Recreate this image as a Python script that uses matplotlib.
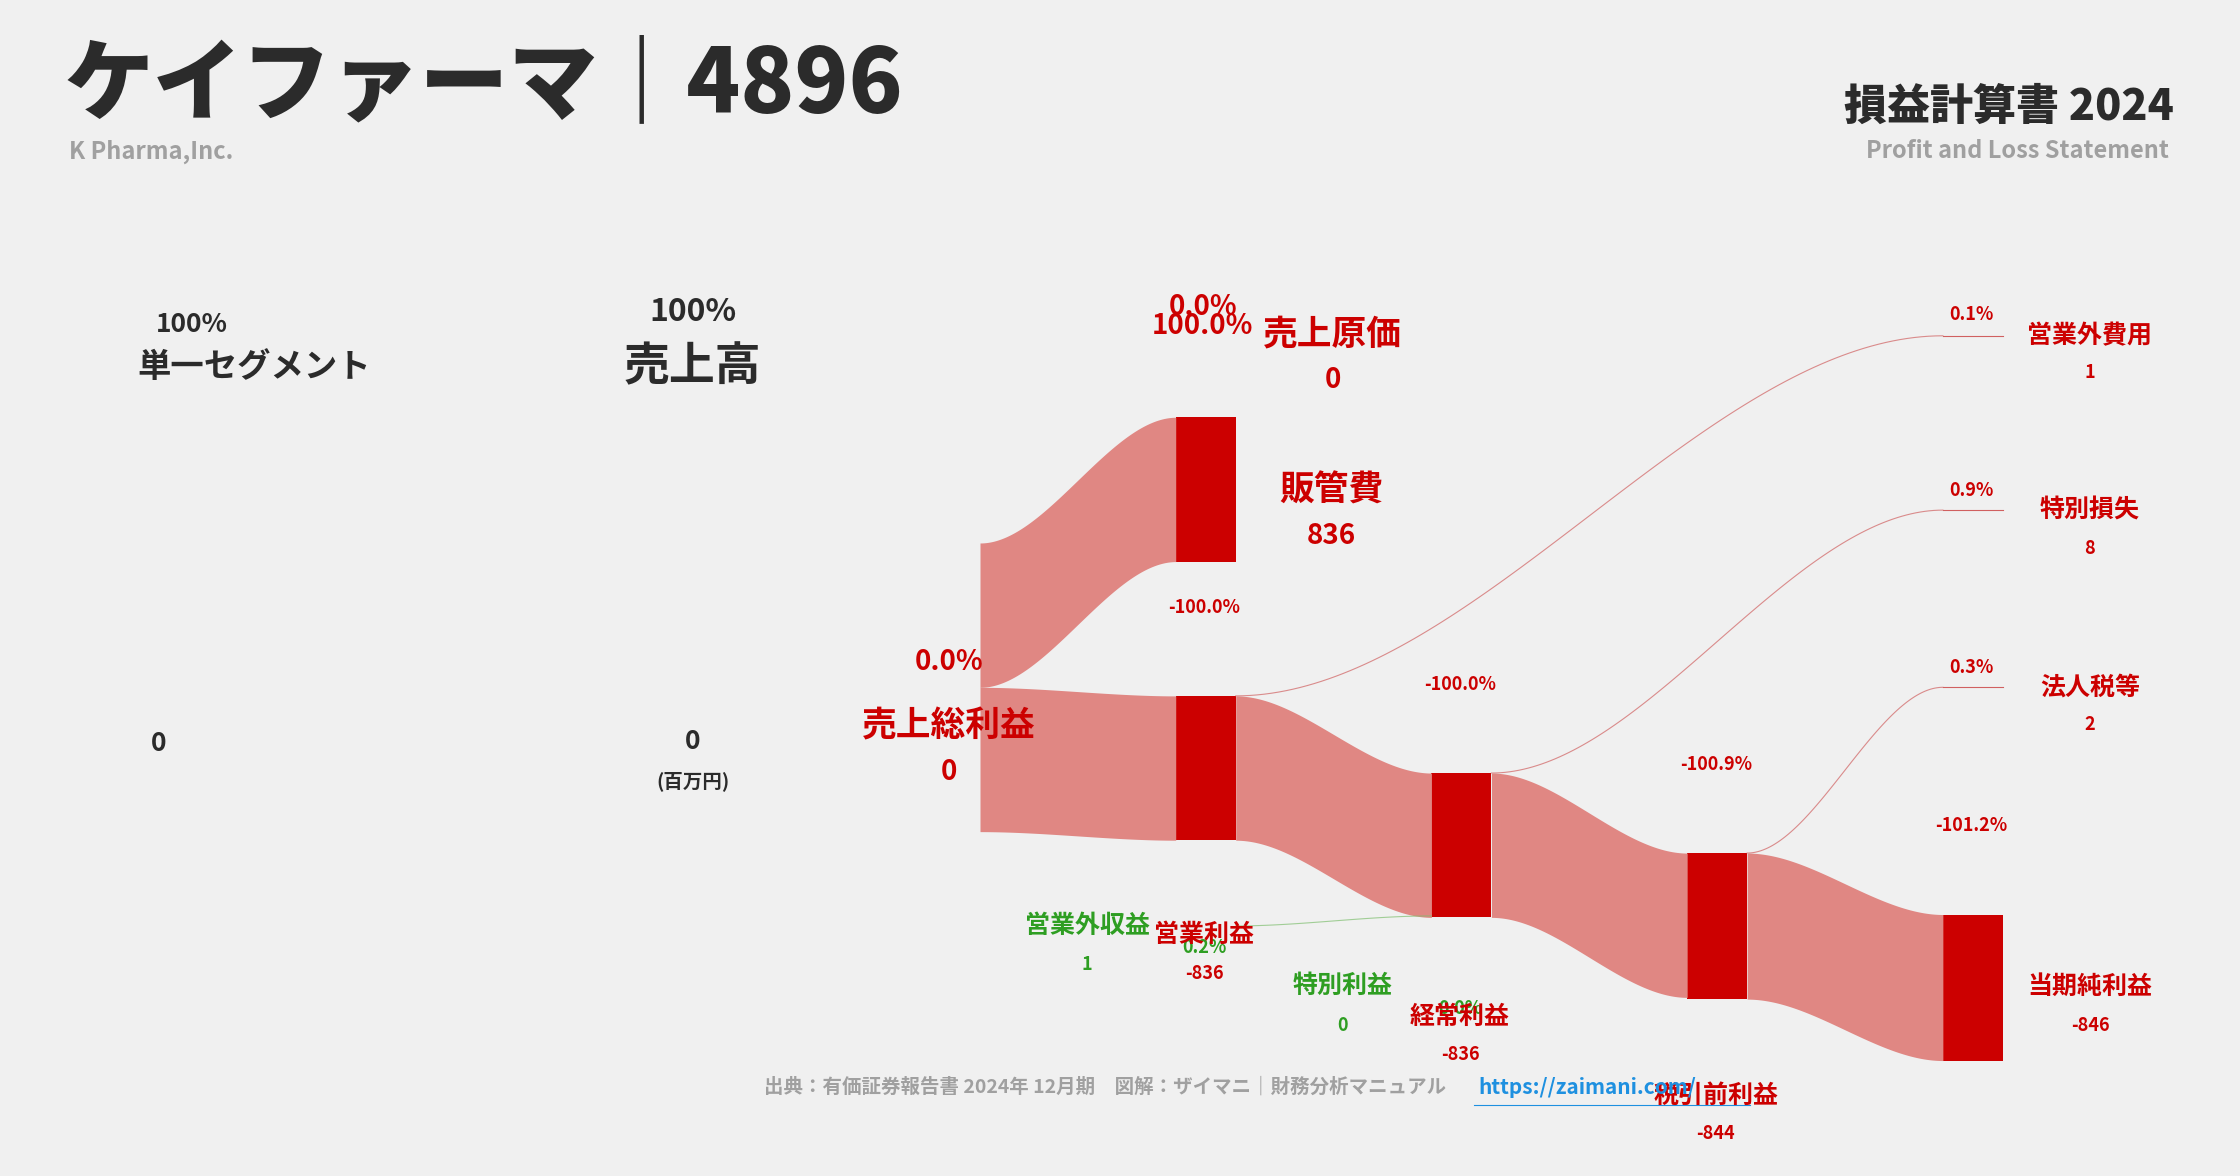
import numpy as np
import matplotlib
matplotlib.use("Agg")
import matplotlib.pyplot as plt

plt.rcParams['font.family'] = ['Noto Sans CJK JP', 'DejaVu Sans']

# ---- data (百万円) ----
revenue = 0
cost_of_sales = 0
gross_profit = 0
sga = 836
operating_profit = -836
non_op_income = 1
non_op_expense = 1
ordinary_profit = -836
special_gain = 0
special_loss = 8
pretax_profit = -844
income_tax = 2
net_profit = -846

RED = '#cc0000'
FLOW = '#e08783'
GREEN = '#2e9e22'
DARK = '#2b2b2b'
GRAY = '#a0a0a0'
BG = '#f0f0f0'

fig = plt.figure(figsize=(22.4, 11.76), dpi=100, facecolor=BG)
ax = fig.add_axes([0, 0, 1, 1])
ax.set_xlim(0, 1568)
ax.set_ylim(823, 0)
ax.axis('off')
ax.set_facecolor(BG)

scale = 101 / 836.0  # px per 百万円

def h(v):
    return abs(v) * scale

def band(x0, y0a, y0b, x1, y1a, y1b, color=FLOW):
    t = np.linspace(0, 1, 100)
    s = t * t * (3 - 2 * t)
    x = x0 + (x1 - x0) * t
    ax.fill_between(x, y0a + (y1a - y0a) * s, y0b + (y1b - y0b) * s, color=color, lw=0)

def line(x0, y0, x1, y1, color):
    t = np.linspace(0, 1, 100)
    s = t * t * (3 - 2 * t)
    ax.plot(x0 + (x1 - x0) * t, y0 + (y1 - y0) * s, color=color, lw=0.8, alpha=0.7)

def bar(x, y, v):
    ax.add_patch(plt.Rectangle((x, y), 42, max(h(v), 0.5), color=RED, lw=0))

bar(823, 292, sga)
bar(823, 487, operating_profit)
bar(1002, 541, ordinary_profit)
bar(1181, 597, pretax_profit)
bar(1360, 640, net_profit)

band(686, 380, 380 + h(sga), 823, 292, 292 + h(sga))
band(686, 481, 481 + h(operating_profit), 823, 487, 487 + h(operating_profit))
band(865, 487, 487 + h(operating_profit), 1002, 541, 541 + h(ordinary_profit))
band(1044, 541, 541 + h(ordinary_profit), 1181, 597, 597 + h(ordinary_profit))
band(1223, 597, 597 + h(net_profit), 1360, 640, 640 + h(net_profit))

line(865, 487, 1360, 235, '#d06060')
ax.plot([1360, 1402], [235, 235], color='#d06060', lw=0.8)
line(1044, 541, 1360, 357, '#d06060')
ax.plot([1360, 1402], [357, 357], color='#d06060', lw=0.8)
line(1223, 597, 1360, 481, '#d06060')
ax.plot([1360, 1402], [481, 481], color='#d06060', lw=0.8)
line(865, 648, 1002, 641, '#7fbf70')

def T(x, y, s, size, color=DARK, ha='center', weight='bold'):
    ax.text(x, y, s, fontsize=size, color=color, ha=ha, va='center', fontweight=weight)

T(45, 60, 'ケイファーマ｜4896', 64, ha='left', weight='heavy')
T(48, 106, 'K Pharma,Inc.', 17, GRAY, ha='left')
T(1522, 75, '損益計算書 2024', 31, ha='right', weight='heavy')
T(1518, 106, 'Profit and Loss Statement', 17, GRAY, ha='right')

T(134, 227, '100%', 19)
T(178, 257, '単一セグメント', 24)
T(111, 520, f'{revenue:,}', 19)
T(485, 218, '100%', 23)
T(485, 257, '売上高', 33)
T(485, 519, f'{revenue:,}', 19)
T(485, 547, '(百万円)', 14)

T(842, 215, '0.0%', 20, RED)
T(842, 228, '100.0%', 20, RED)
T(933, 234, '売上原価', 25, RED)
T(933, 266, f'{cost_of_sales:,}', 20, RED)
T(932, 343, '販管費', 25, RED)
T(932, 375, f'{sga:,}', 20, RED)
T(843, 425, '-100.0%', 13, RED)
T(664, 463, '0.0%', 20, RED)
T(664, 508, '売上総利益', 25, RED)
T(664, 540, f'{gross_profit:,}', 20, RED)
T(1022, 479, '-100.0%', 13, RED)
T(1201, 535, '-100.9%', 13, RED)
T(1380, 578, '-101.2%', 13, RED)

T(1380, 220, '0.1%', 13, RED)
T(1463, 235, '営業外費用', 18, RED)
T(1463, 261, f'{non_op_expense:,}', 13, RED)
T(1380, 343, '0.9%', 13, RED)
T(1463, 357, '特別損失', 18, RED)
T(1463, 384, f'{special_loss:,}', 13, RED)
T(1380, 467, '0.3%', 13, RED)
T(1463, 481, '法人税等', 18, RED)
T(1463, 507, f'{income_tax:,}', 13, RED)
T(1463, 691, '当期純利益', 18, RED)
T(1463, 718, f'{net_profit:,}', 13, RED)

T(761, 648, '営業外収益', 18, GREEN)
T(761, 675, f'{non_op_income:,}', 13, GREEN)
T(843, 663, '0.2%', 13, GREEN)
T(940, 690, '特別利益', 18, GREEN)
T(940, 718, f'{special_gain:,}', 13, GREEN)
T(1022, 706, '0.0%', 13, GREEN)

T(843, 654, '営業利益', 18, RED)
T(843, 681, f'{operating_profit:,}', 13, RED)
T(1022, 712, '経常利益', 18, RED)
T(1022, 738, f'{ordinary_profit:,}', 13, RED)
T(1201, 767, '税引前利益', 18, RED)
T(1201, 793, f'{pretax_profit:,}', 13, RED)

T(1012, 761, '出典：有価証券報告書 2024年 12月期　図解：ザイマニ｜財務分析マニュアル', 14, GRAY, ha='right')
T(1035, 761, 'https://zaimani.com/', 15, '#1e90e0', ha='left')
ax.plot([1032, 1225], [773, 773], color='#1e90e0', lw=0.8)

fig.savefig('out.png', dpi=100, facecolor=BG)
